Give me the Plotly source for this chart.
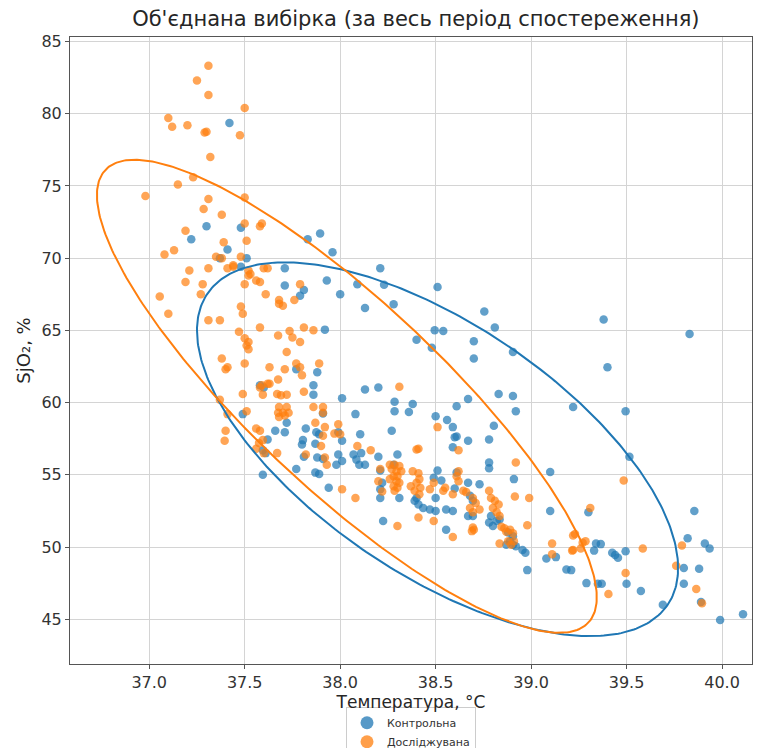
import numpy as np
import plotly.graph_objects as go

# ---- data ----
control_x = [37.42, 37.30, 37.48, 37.22, 37.41, 37.37, 37.51, 37.48, 37.71, 37.83,
             37.895, 37.96,
             37.71, 37.81, 37.79, 37.93, 38.00, 38.09, 38.13, 38.21, 38.23, 38.28, 38.40, 37.92,
             37.77, 37.88, 37.58, 37.60, 37.86, 37.86, 38.01, 38.13, 38.20, 38.285, 38.38, 38.36,
             38.285, 38.08, 37.91, 37.49, 37.72, 37.66, 37.71, 37.82, 37.875, 37.89, 37.99, 38.01,
             38.105, 38.27, 37.62, 37.805, 37.80, 37.87, 37.61, 37.595, 37.81, 37.88, 37.91, 37.99,
             38.01, 37.98, 38.07, 38.11, 38.085, 38.10, 38.13, 38.20, 38.28, 38.30, 38.21, 38.22,
             37.77, 37.595, 37.87, 37.89, 37.94, 38.21, 38.31, 38.40,
             38.51, 38.755, 38.81, 38.495, 38.54, 38.48, 38.70, 38.70, 38.905, 39.38, 39.40, 39.83,
             38.61, 38.67, 38.83, 38.905, 38.92, 39.22, 39.495, 39.515, 38.50, 38.56, 38.59, 38.805,
             38.61, 38.60, 38.67, 38.78, 38.59, 38.78, 38.78, 38.91, 39.10, 38.51, 38.49, 38.53,
             38.67, 38.73, 38.60,
             38.225, 38.21, 38.39, 38.41, 38.435, 38.47, 38.50, 38.555, 38.59, 38.50, 38.61, 38.68,
             38.695, 38.67, 38.695, 38.555, 38.78, 38.80, 38.82, 38.835, 38.79, 38.88, 38.905, 38.89,
             38.92, 38.955, 38.97, 38.98, 38.87, 38.905, 39.10, 39.08, 39.13, 39.185, 39.21, 39.29,
             39.30, 39.34, 39.35,
             39.855, 39.82, 39.91, 39.935, 39.80, 39.88, 39.33, 39.365, 39.425, 39.44, 39.455, 39.495,
             39.37, 39.50, 39.575, 39.69, 39.80, 39.89, 39.99, 40.11]
control_y = [79.35, 72.2, 72.1, 71.3, 70.6, 70.0, 70.0, 69.4, 69.3, 71.3,
             71.7, 70.4,
             68.1, 67.8, 67.4, 68.45, 67.5, 68.2, 66.55, 69.3, 68.15, 66.8, 64.35, 65.05,
             62.3, 62.1, 61.2, 61.05, 61.2, 60.55, 60.3, 60.9, 61.05, 60.05, 59.9, 59.35,
             59.4, 59.2, 59.25, 59.2, 58.6, 58.05, 57.95, 58.2, 57.95, 57.8, 57.95, 57.35,
             57.8, 58.05, 57.45, 57.4, 57.1, 57.15, 56.5, 56.7, 56.25, 56.2, 56.1, 56.4,
             55.95, 55.7, 56.4, 56.5, 56.05, 55.7, 55.7, 56.25, 55.7, 56.4, 55.3, 54.45,
             55.4, 55.0, 55.15, 55.05, 54.1, 54.0, 53.4, 53.4,
             68.0, 66.3, 65.2, 65.0, 64.95, 63.8, 64.25, 63.05, 63.5, 65.75, 62.45, 64.75,
             59.75, 60.25, 60.6, 60.45, 59.4, 59.7, 59.4, 56.25, 59.05, 58.8, 58.3, 58.4,
             57.65, 57.6, 57.35, 57.45, 56.9, 55.85, 55.45, 54.7, 55.2, 55.3, 54.8, 54.6,
             54.45, 54.35, 54.05,
             51.8, 53.4, 53.2, 52.95, 52.7, 52.6, 52.5, 52.6, 52.5, 53.4, 55.15, 53.55,
             53.2, 52.15, 52.15, 51.2, 51.7, 51.45, 51.8, 51.9, 52.15, 51.0, 50.75, 50.4,
             50.05, 49.8, 49.6, 48.4, 50.15, 50.15, 52.5, 49.2, 49.3, 48.45, 48.4, 47.5,
             52.4, 50.25, 47.45,
             52.5, 50.6, 50.25, 49.9, 48.55, 48.5, 49.75, 50.2, 49.6, 49.45, 49.25, 49.7,
             47.45, 47.45, 46.95, 46.0, 47.45, 46.2, 44.95, 45.35]

study_x = [37.31, 37.25, 37.31, 37.50, 37.10, 37.12, 37.20, 37.29, 37.30, 37.475, 37.32, 37.23,
           37.15, 36.98, 37.31, 37.50, 37.285, 37.38, 37.19, 37.50, 37.58, 37.59, 37.39, 37.51,
           37.08, 37.13, 37.35, 37.48, 37.21, 37.31, 37.41, 37.44, 37.60, 37.62, 37.52,
           37.055, 37.10,
           37.19, 37.28, 37.27, 37.38, 37.44, 37.52, 37.53, 37.58, 37.50, 37.56, 37.61, 37.68,
           37.70, 37.68, 37.76, 37.79, 37.48, 37.49, 37.31, 37.37, 37.58, 37.47, 37.50, 37.52,
           37.52, 37.51, 37.675, 37.735, 37.75, 37.79, 37.81, 37.86, 37.72, 37.38, 37.41, 37.40,
           37.50, 37.63, 37.71, 37.77, 37.79, 37.89, 37.80, 37.675, 37.63, 37.62, 37.59, 37.58,
           37.595, 37.49, 37.67, 37.69, 37.72, 37.81, 37.86, 37.91, 37.91, 37.68, 37.72, 37.675,
           37.70, 37.73, 37.68, 37.71, 37.51, 37.37, 37.41, 37.56, 37.58, 37.595, 37.575, 37.40,
           37.395, 37.56, 37.60, 37.67, 37.82, 37.87, 37.92, 37.91, 37.90, 37.99, 38.00, 37.97,
           37.92, 37.93, 38.01, 38.08, 38.09, 38.16, 38.31, 38.40,
           38.51, 38.41, 38.62, 38.92, 39.485, 38.915, 38.99,
           38.26, 38.285, 38.31, 38.27, 38.295, 38.32, 38.28, 38.30, 38.26, 38.295, 38.31, 38.28,
           38.30, 38.285, 38.21, 38.20, 38.22, 38.38, 38.41, 38.415, 38.40, 38.37, 38.39, 38.42,
           38.415, 38.47, 38.49, 38.54, 38.55, 38.62, 38.61, 38.62, 38.59, 38.645, 38.66, 38.695,
           38.71, 38.68, 38.695, 38.73, 38.70, 38.69, 38.78, 38.79, 38.81, 38.80, 38.83, 38.82,
           38.835, 38.845, 38.86, 38.87, 38.89, 38.905, 38.835, 38.88, 38.895, 38.91, 38.98, 38.41,
           38.49, 38.59, 38.695, 38.30, 39.22, 39.27, 39.31, 39.11, 39.22, 39.11,
           39.23, 39.285, 39.26, 39.215, 39.585, 39.495, 39.405, 39.76, 39.79, 39.865, 39.895]
study_y = [83.32, 82.3, 81.3, 80.4, 79.7, 79.1, 79.2, 78.7, 78.75, 78.5, 77.0, 75.6,
           75.1, 74.3, 74.1, 74.2, 73.4, 73.0, 71.9, 72.4, 72.2, 72.4, 71.1, 71.2,
           70.25, 70.55, 70.1, 70.1, 69.15, 69.3, 69.3, 69.4, 69.3, 69.3, 69.15,
           67.35, 66.15,
           68.35, 68.2, 67.5, 70.0, 69.5, 68.8, 68.9, 68.35, 68.2, 68.45, 67.5, 67.1,
           66.7, 66.85, 67.1, 68.2, 66.65, 66.15, 65.7, 65.7, 65.2, 64.9, 64.45, 64.2,
           63.7, 63.95, 64.65, 64.95, 64.5, 64.2, 65.2, 65.0, 63.5, 63.05, 62.45, 62.3,
           62.7, 62.45, 62.3, 62.7, 62.45, 62.7, 61.9, 61.6, 61.3, 61.3, 61.2, 61.05,
           60.55, 60.6, 60.6, 60.5, 60.55, 60.75, 59.7, 59.7, 59.3, 59.7, 59.7, 59.3,
           59.3, 59.3, 59.0, 59.1, 59.4, 60.2, 59.2, 58.2, 58.05, 57.4, 57.2, 58.05,
           57.35, 56.8, 56.5, 56.5, 56.4, 58.6, 58.3, 57.7, 57.0, 58.5, 57.8, 57.85,
           56.2, 55.7, 54.0, 53.4, 57.0, 56.7, 61.1, 56.75,
           58.3, 56.8, 56.7, 55.85, 54.6, 53.5, 53.4,
           55.7, 55.7, 55.6, 55.4, 55.25, 55.25, 54.9, 54.9, 54.7, 54.55, 54.45, 54.2,
           54.1, 53.9, 55.4, 54.55, 53.85, 55.25, 55.1, 54.7, 54.45, 54.2, 53.9, 54.1,
           53.65, 54.0, 54.45, 53.9, 54.1, 55.25, 54.9, 54.55, 53.65, 53.9, 53.8, 53.4,
           53.05, 52.7, 52.4, 52.6, 51.2, 51.1, 53.9, 53.4, 53.2, 52.7, 52.95, 52.4,
           52.15, 51.4, 51.3, 51.05, 51.2, 50.95, 50.25, 50.4, 50.15, 50.4, 51.5, 52.05,
           51.8, 50.7, 51.35, 51.45, 50.8, 50.3, 52.7, 50.25, 49.8, 49.5,
           50.9, 50.4, 49.9, 49.75, 49.9, 48.2, 46.75, 48.7, 50.1, 47.1, 46.1]

group_names = ["Контрольна", "Досліджувана"]
group_colors = ["#1f77b4", "#ff7f0e"]

# confidence-ellipse parameters per group: mean x, mean y, n*std x, n*std y, correlation r
ell_cx = [38.51, 38.035]
ell_cy = [56.77, 60.435]
ell_sx = [1.26, 1.309]
ell_sy = [12.94, 16.375]
ell_r = [-0.635, -0.85]

x_ticks = [37.0, 37.5, 38.0, 38.5, 39.0, 39.5, 40.0]
y_ticks = [45, 50, 55, 60, 65, 70, 75, 80, 85]

FONT = "DejaVu Sans"


def ellipse(cx, cy, sx, sy, r, n=361):
    t = np.linspace(0, 2 * np.pi, n)
    u = np.sqrt(1 + r) * np.cos(t)
    v = np.sqrt(1 - r) * np.sin(t)
    xn = (u - v) / np.sqrt(2)
    yn = (u + v) / np.sqrt(2)
    return cx + sx * xn, cy + sy * yn


fig = go.Figure()
series = [(control_x, control_y), (study_x, study_y)]
for (xs, ys), name, col in zip(series, group_names, group_colors):
    fig.add_trace(go.Scatter(x=xs, y=ys, mode="markers", name=name, showlegend=False,
                             marker=dict(size=8.5, color=col, opacity=0.7, line=dict(width=0))))

for i in range(2):
    ex, ey = ellipse(ell_cx[i], ell_cy[i], ell_sx[i], ell_sy[i], ell_r[i])
    fig.add_trace(go.Scatter(x=ex, y=ey, mode="lines", showlegend=False, hoverinfo="skip",
                             line=dict(color=group_colors[i], width=2)))

# legend entries (bigger markers, like the reference)
for name, col in zip(group_names, group_colors):
    fig.add_trace(go.Scatter(x=[None], y=[None], mode="markers", name=name,
                             marker=dict(size=13, color=col, opacity=0.75)))

fig.update_layout(
    width=763, height=748,
    margin=dict(l=70, r=11, t=37, b=84, autoexpand=False),
    paper_bgcolor="white", plot_bgcolor="white",
    font=dict(family=FONT, color="#262626"),
    title=dict(text="Об'єднана вибірка (за весь період спостереження)",
               x=0.545, xanchor="center", y=0.975, yanchor="middle",
               font=dict(size=21, family=FONT, color="#262626")),
    legend=dict(x=0.5, xanchor="center", y=-0.069, yanchor="top", orientation="v",
                bgcolor="rgba(255,255,255,0.6)", bordercolor="#cccccc", borderwidth=1,
                font=dict(size=11, family=FONT, color="#333333"),
                tracegroupgap=0, itemwidth=30),
    showlegend=True,
)
fig.update_xaxes(range=[36.585, 40.157], tickvals=x_ticks,
                 ticktext=[f"{v:.1f}" for v in x_ticks],
                 showgrid=True, gridcolor="#d4d4d4", gridwidth=1, zeroline=False,
                 showline=True, linecolor="#555555", linewidth=1, mirror=True,
                 ticks="outside", ticklen=4, tickcolor="#555555",
                 tickfont=dict(size=16, family=FONT, color="#333333"),
                 title=dict(text="Температура, °C", standoff=3,
                            font=dict(size=17, family=FONT, color="#262626")))
fig.update_yaxes(range=[41.9, 85.31], tickvals=y_ticks,
                 showgrid=True, gridcolor="#d4d4d4", gridwidth=1, zeroline=False,
                 showline=True, linecolor="#555555", linewidth=1, mirror=True,
                 ticks="outside", ticklen=4, tickcolor="#555555",
                 tickfont=dict(size=16, family=FONT, color="#333333"),
                 title=dict(text="SjO₂, %", standoff=6,
                            font=dict(size=18, family=FONT, color="#262626")))

fig.write_html("out.html")
